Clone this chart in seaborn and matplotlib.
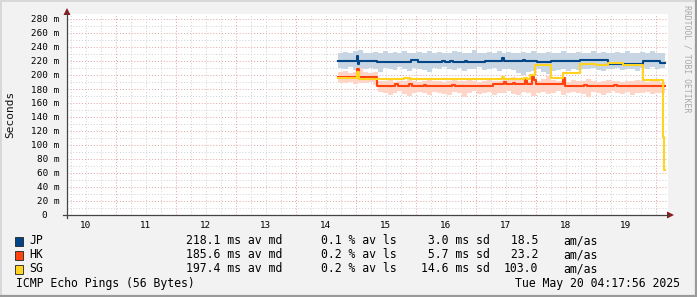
import numpy as np
import pandas as pd
import matplotlib
matplotlib.use("Agg")
import matplotlib.pyplot as plt
from matplotlib.patches import Polygon, Rectangle
from matplotlib.lines import Line2D
import seaborn as sns

# ---------------- data (hours of day, values in ms) ----------------
targets = ["JP", "HK", "SG"]
line_colors = ["#004586", "#ff420e", "#ffd320"]
smoke_colors = ["#c8d5e3", "#ffd5c8", "#fff2b8"]

jp_t = [14.70, 15.017, 15.033, 15.05, 15.35, 15.92, 16.03, 16.43, 16.48, 16.57, 16.62,
        16.82, 16.85, 17.15, 17.43, 17.47, 17.78, 17.82, 18.01, 18.25, 18.73, 19.20,
        19.78, 20.07, 20.15]
jp_v = [220.4, 227.0, 216.0, 219.5, 219.0, 221.0, 219.0, 220.5, 219.0, 220.5, 219.0,
        220.5, 219.0, 220.0, 224.7, 220.4, 222.0, 220.4, 218.1, 220.0, 221.0, 216.0,
        220.0, 217.0, 217.0]

hk_t = [14.70, 15.017, 15.05, 15.35, 15.65, 15.70, 15.88, 15.93, 16.13, 16.17, 16.60,
        16.65, 17.28, 17.47, 17.50, 17.62, 17.65, 17.82, 17.85, 17.93, 17.97, 18.00,
        18.45, 18.48, 18.80, 18.85, 19.30, 19.35, 20.15]
hk_v = [196.7, 209.0, 197.0, 184.8, 186.7, 184.8, 186.5, 184.8, 186.0, 184.8, 186.0,
        184.8, 186.7, 190.0, 186.7, 188.5, 186.7, 193.0, 186.7, 197.0, 193.0, 187.0,
        196.0, 184.3, 185.5, 184.3, 186.0, 184.3, 184.3]

sg_t = [14.70, 15.017, 15.05, 15.35, 15.80, 15.90, 16.30, 16.40, 17.43, 17.47, 17.80,
        17.85, 17.90, 17.98, 18.25, 18.45, 18.73, 19.00, 19.20, 19.45, 19.78, 20.12,
        20.14, 20.15]
sg_v = [195.2, 205.0, 195.0, 194.3, 195.5, 194.0, 195.0, 193.8, 197.6, 194.0, 196.0,
        194.0, 200.0, 214.3, 195.2, 202.4, 215.7, 214.0, 216.5, 214.5, 192.9, 112.0,
        64.3, 64.3]

# smoke (ping spread) bands, 5-minute samples from 14:42 to 20:09
jp_hi = [232, 233, 231, 234, 236, 232, 231, 233, 232, 234, 231, 233, 232, 235, 231, 232,
         233, 231, 234, 232, 233, 231, 232, 234, 233, 231, 232, 236, 232, 231, 233, 232,
         234, 231, 233, 232, 231, 233, 232, 234, 231, 232, 233, 231, 232, 234, 232, 231,
         233, 232, 231, 234, 232, 233, 231, 232, 233, 231, 234, 232, 231, 233, 232, 234,
         231, 232]
jp_lo = [210, 208, 211, 207, 206, 209, 210, 208, 205, 210, 209, 207, 211, 208, 206, 210,
         209, 207, 204, 210, 208, 211, 209, 207, 210, 206, 209, 208, 211, 207, 209, 210,
         206, 209, 208, 207, 203, 200, 204, 206, 208, 205, 202, 206, 207, 209, 206, 208,
         207, 209, 208, 210, 207, 206, 209, 208, 210, 207, 209, 208, 206, 210, 209, 211,
         208, 210]
hk_hi = [204, 206, 203, 205, 210, 204, 203, 205,
         192, 191, 193, 190, 192, 191, 194, 192, 190, 191, 193, 192, 191, 190, 192, 193,
         191, 192, 194, 191, 190, 192, 193, 191, 192, 195, 193, 197, 196, 194, 192, 193,
         191, 195, 198, 193, 191, 192, 190, 193, 192, 191, 194, 192, 190, 191, 193, 192,
         191, 190, 192, 191, 193, 192, 190, 191, 192, 190]
hk_lo = [189, 188, 190, 187, 189, 188, 190, 186,
         176, 174, 172, 175, 177, 173, 170, 175, 176, 174, 172, 176, 175, 173, 171, 176,
         174, 168, 175, 177, 173, 174, 176, 172, 175, 174, 177, 173, 171, 176, 175, 170,
         174, 176, 173, 175, 177, 172, 174, 176, 175, 173, 169, 176, 174, 172, 175, 177,
         174, 173, 176, 171, 175, 174, 176, 173, 175, 174]

smoke_start, smoke_end = 14.70, 20.15

y_ticks = list(range(0, 281, 20))
y_labels = [f"{v} m" if v else "0  " for v in y_ticks]
hours = list(range(10, 20))

legend_rows = [
    ("JP", "218.1 ms av md", "0.1 % av ls", " 3.0 ms sd", " 18.5", "am/as"),
    ("HK", "185.6 ms av md", "0.2 % av ls", " 5.7 ms sd", " 23.2", "am/as"),
    ("SG", "197.4 ms av md", "0.2 % av ls", "14.6 ms sd", "103.0", "am/as"),
]
footer_left = "ICMP Echo Pings (56 Bytes)"
footer_right = "Tue May 20 04:17:56 2025"
watermark = "RRDTOOL / TOBI OETIKER"
y_title = "Seconds"

# ---------------- figure ----------------
W, H = 697, 297
MONO = "DejaVu Sans Mono"
BG = "#f2f2f2"

fig = plt.figure(figsize=(W / 100, H / 100), dpi=100, facecolor=BG)


def fx(x):
    return x / W


def fy(y):
    return 1 - y / H


L, R, T, B = 67, 668, 14, 215
ax = fig.add_axes([fx(L), fy(B), (R - L) / W, (B - T) / H])
ax.set_facecolor("white")
ax.set_xlim(10.1833, 20.2)
ax.set_ylim(0, (B - T) / 0.7)
for s in ax.spines.values():
    s.set_visible(False)

# grid
for m in np.arange(10, 290, 10):
    major = (m % 20 == 0)
    ax.axhline(m, color="#e2a0a0" if major else "#d0d0d0", lw=0.7,
               ls=(0, (1, 2)), zorder=0.5)
for q in np.arange(10.25, 20.2, 0.25):
    major = abs(q - round(q)) < 1e-6
    ax.axvline(q, color="#e2a0a0" if major else "#d0d0d0", lw=0.7,
               ls=(0, (1, 2)), zorder=0.5)

# smoke
for lo, hi, col in [(jp_lo, jp_hi, smoke_colors[0]), (hk_lo, hk_hi, smoke_colors[1])]:
    n = len(lo)
    tt = smoke_start + np.arange(n + 1) * (smoke_end - smoke_start) / n
    ax.fill_between(tt, lo + [lo[-1]], hi + [hi[-1]], step="post",
                    color=col, lw=0, zorder=1)

# median lines
for name, tt, vv, col in [("JP", jp_t, jp_v, line_colors[0]),
                          ("HK", hk_t, hk_v, line_colors[1]),
                          ("SG", sg_t, sg_v, line_colors[2])]:
    df = pd.DataFrame({"t": tt, "v": vv})
    sns.lineplot(data=df, x="t", y="v", ax=ax, color=col, lw=1.5,
                 drawstyle="steps-post", estimator=None, sort=False,
                 legend=False, zorder=3)

ax.set_xlabel("")
ax.set_ylabel("")
ax.set_yticks(y_ticks)
ax.set_yticklabels(y_labels, family=MONO, fontsize=6.7)
ax.set_xticks([h + 0.5 for h in hours])
ax.set_xticklabels([str(h) for h in hours], family=MONO, fontsize=6.7)
ax.tick_params(axis="y", length=0, pad=5.5)
ax.tick_params(axis="x", length=0, pad=4)

# axes + arrows (figure coordinates)
axis_col = "#444444"
arrow_col = "#8b1a1a"
fig.add_artist(Line2D([fx(L), fx(L)], [fy(218), fy(12)], color=axis_col, lw=0.9))
fig.add_artist(Line2D([fx(63), fx(669)], [fy(B), fy(B)], color=axis_col, lw=0.9))
fig.add_artist(Polygon([[fx(L), fy(8)], [fx(L - 3.5), fy(15)], [fx(L + 3.5), fy(15)]],
                       closed=True, color=arrow_col, lw=0))
fig.add_artist(Polygon([[fx(674), fy(B)], [fx(667), fy(B - 3.5)], [fx(667), fy(B + 3.5)]],
                       closed=True, color=arrow_col, lw=0))

# titles
fig.text(fx(10.5), fy(114), y_title, rotation=90, family=MONO, fontsize=8,
         ha="center", va="center", color="#111111")
fig.text(fx(687.5), fy(5), watermark, rotation=270, family=MONO, fontsize=5.9,
         ha="center", va="top", color="#a8a8a8")

# legend
LEG_FS = 8.3
for i, (row, col) in enumerate(zip(legend_rows, line_colors)):
    yc = 241 + 14 * i
    fig.add_artist(Rectangle((fx(15), fy(yc + 4.5)), 8 / W, 9 / H, facecolor=col,
                             edgecolor="#222222", lw=0.6))
    fig.text(fx(29), fy(yc), row[0], family=MONO, fontsize=LEG_FS, va="center", ha="left")
    fig.text(fx(186.5), fy(yc), row[1], family=MONO, fontsize=LEG_FS, va="center", ha="left")
    fig.text(fx(321), fy(yc), row[2], family=MONO, fontsize=LEG_FS, va="center", ha="left")
    fig.text(fx(421), fy(yc), row[3], family=MONO, fontsize=LEG_FS, va="center", ha="left")
    fig.text(fx(504), fy(yc), row[4], family=MONO, fontsize=LEG_FS, va="center", ha="left")
    fig.text(fx(563.5), fy(yc), row[5], family=MONO, fontsize=LEG_FS, va="center", ha="left")

fig.text(fx(16), fy(283), footer_left, family=MONO, fontsize=LEG_FS, va="center", ha="left")
fig.text(fx(680), fy(283), footer_right, family=MONO, fontsize=LEG_FS, va="center", ha="right")

# frame (3D-style border)
fig.add_artist(Line2D([0, 1], [fy(0.5), fy(0.5)], color="#d8d8d8", lw=1.4))
fig.add_artist(Line2D([fx(0.5), fx(0.5)], [0, 1], color="#d8d8d8", lw=1.4))
fig.add_artist(Line2D([0, 1], [fy(296), fy(296)], color="#9a9a9a", lw=1.6))
fig.add_artist(Line2D([fx(696), fx(696)], [0, 1], color="#9a9a9a", lw=1.6))

fig.savefig("out.png", dpi=100, facecolor=BG)
